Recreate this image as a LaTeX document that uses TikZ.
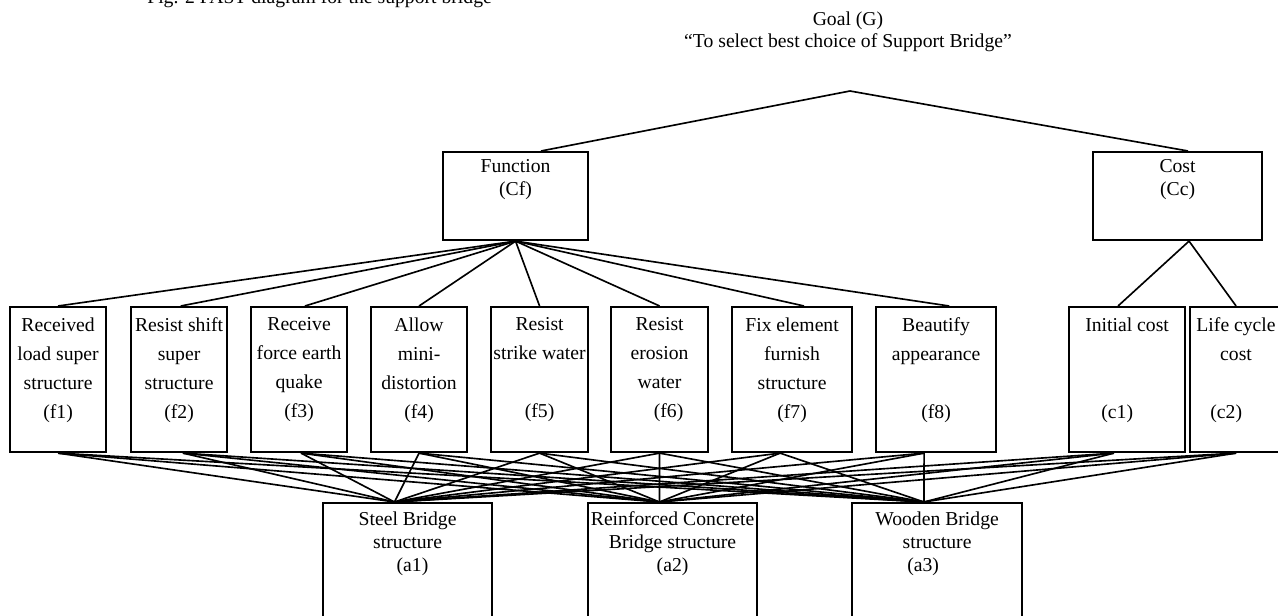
\documentclass[tikz,border=0pt]{standalone}
\usepackage{fontspec}
\setmainfont{Liberation Serif}
\newlength{\px}
\setlength{\px}{0.6098pt}
% box text: width, height (px), top gap, lines
\newcommand{\boxtext}[4]{\parbox[t][#2\px][t]{#1\px}{\centering\vspace*{#3}#4}}

\begin{document}
\begin{tikzpicture}[x=1\px, y=-1\px]
	\tikzstyle{box} = [draw, line width=1.3pt, inner sep=0, anchor=north west]
	\tikzstyle{fbox} = [box, font=\fontsize{12}{17.7}\selectfont]
	\tikzstyle{abox} = [box, font=\fontsize{12}{14}\selectfont]
	\tikzstyle{plain} = [inner sep=0, font=\fontsize{12}{13.5}\selectfont]
	\tikzstyle{line} = [line width=1pt]

	\useasboundingbox (0,0) rectangle (1278,616);

	\node [plain, anchor=base west] (cap) at (147,4) {Fig. 2 FAST diagram for the support bridge};
	\node [plain, anchor=north, align=center] (g) at (848,11.5) {Goal (G)\\“To select best choice of Support Bridge”};
	\coordinate (top) at (850,91);

	\node [abox] (cf) at (442,151) {\boxtext{145}{88}{4.5pt}{Function\\(Cf)}};
	\node [abox] (cc) at (1092,151) {\boxtext{169}{88}{4.5pt}{Cost\\(Cc)}};

	\node [fbox] (f1) at (9,306) {\boxtext{96}{145}{6.5pt}{Received\\load super\\structure\\(f1)}};
	\node [fbox] (f2) at (130,306) {\boxtext{96}{145}{6.5pt}{Resist shift\\super\\structure\\(f2)}};
	\node [fbox] (f3) at (250,306) {\boxtext{96}{145}{6.5pt}{Receive\\force earth\\quake\\(f3)}};
	\node [fbox] (f4) at (370,306) {\boxtext{96}{145}{6.5pt}{Allow\\mini-\\distortion\\(f4)}};
	\node [fbox] (f5) at (490,306) {\boxtext{97}{145}{6.5pt}{Resist\\strike water\\\mbox{}\\(f5)}};
	\node [fbox] (f6) at (610,306) {\boxtext{97}{145}{6.5pt}{Resist\\erosion\\water\\\hspace*{11pt}(f6)}};
	\node [fbox] (f7) at (731,306) {\boxtext{120}{145}{6.5pt}{Fix element\\furnish\\structure\\(f7)}};
	\node [fbox] (f8) at (875,306) {\boxtext{120}{145}{6.5pt}{Beautify\\appearance\\\mbox{}\\(f8)}};
	\node [fbox] (c1) at (1068,306) {\boxtext{116}{145}{6.5pt}{Initial cost\hspace*{12pt}\\\mbox{}\\\mbox{}\\(c1)\hspace*{12pt}}};
	\node [fbox] (c2) at (1189,306) {\boxtext{92}{145}{6.5pt}{Life cycle\\cost\\\mbox{}\\(c2)\hspace*{12pt}}};

	\node [abox] (a1) at (322,502) {\boxtext{169}{140}{5.2pt}{Steel Bridge\\structure\\\hspace*{6pt}(a1)}};
	\node [abox] (a2) at (587,502) {\boxtext{169}{140}{5.2pt}{Reinforced Concrete\\Bridge structure\\(a2)}};
	\node [abox] (a3) at (851,502) {\boxtext{170}{140}{5.2pt}{Wooden Bridge\\structure\\(a3)\hspace*{17pt}}};

	\draw [line] (top) -- ([xshift=15.5pt]cf.north);
	\draw [line] (top) -- ([xshift=6.4pt]cc.north);
	\foreach \f/\s in {f1/0,f2/1,f3/3.6,f4/0,f5/0,f6/0,f7/7.3,f8/8}
		\draw [line] (cf.south) -- ([xshift=\s pt]\f.north);
	\draw [line] ([xshift=7pt]cc.south) -- ([xshift=-5.5pt]c1.north);
	\draw [line] ([xshift=7pt]cc.south) -- (c2.north);
	\foreach \f/\s in {f1/0,f2/2.4,f3/1.2,f4/0,f5/0,f6/0,f7/-7.3,f8/-7.3,c1/-8,c2/0}
		\foreach \a in {a1,a2,a3}
			\draw [line] ([xshift=\s pt]\f.south) -- ([xshift=-8pt]\a.north);
\end{tikzpicture}
\end{document}
